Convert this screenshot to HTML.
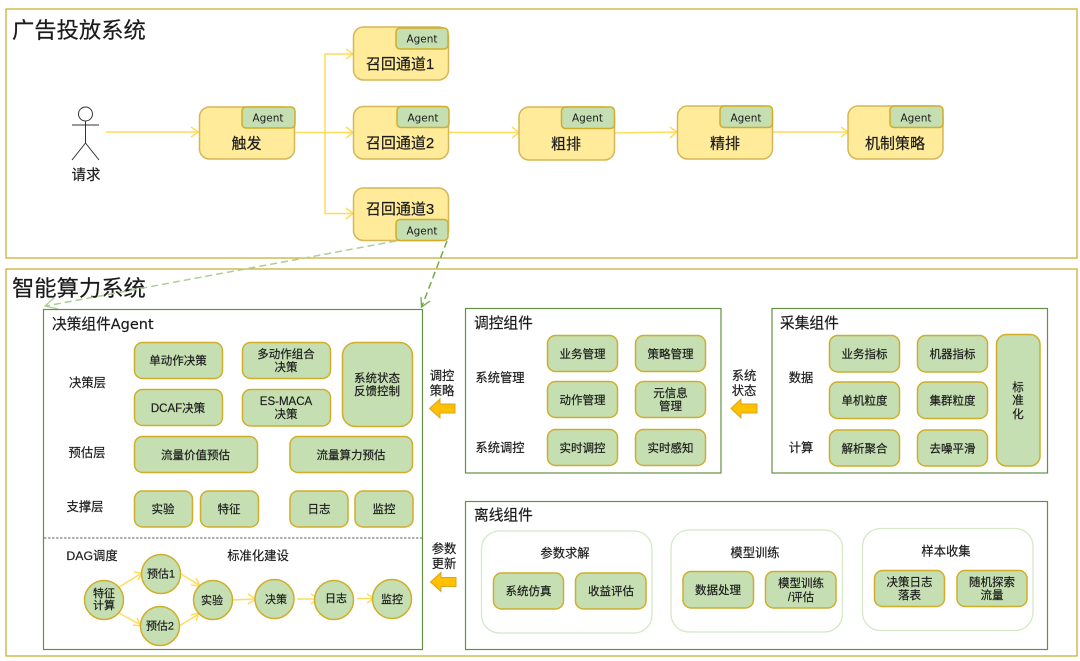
<!DOCTYPE html>
<html><head><meta charset="utf-8">
<style>
html,body{margin:0;padding:0;background:#fff}
svg{display:block}
text{font-family:"Liberation Sans","Noto Sans CJK SC",sans-serif;fill:#1a1a1a;stroke:#1a1a1a;stroke-width:.18;text-anchor:middle}
.l{text-anchor:start}
.t{font-size:22.3px}
.p{font-size:14.7px}
.s{font-size:11.5px}
.m{font-size:12.3px}
.a{font-family:"DejaVu Sans","Liberation Sans",sans-serif;font-size:11px;stroke-width:0}
.n{font-size:15px}
.c{font-size:11px}
.y{fill:#ffeb99;stroke:#d6b656;stroke-width:1.5}
.g{fill:#c5dfb3;stroke:#d0ae2a;stroke-width:1.5}
.b{fill:none;stroke:#658f45;stroke-width:1.2}
.o{fill:none;stroke:#d5e8c8;stroke-width:1.3}
.w{fill:none;stroke:#ffdc5c;stroke-width:1.5}
.h{fill:#ffc000;stroke:#d6a520;stroke-width:1}
</style></head>
<body>
<svg width="1080" height="661" viewBox="0 0 1080 661" xmlns="http://www.w3.org/2000/svg">
<rect x="0" y="0" width="1080" height="661" fill="#fff"/>
<rect x="6" y="9" width="1071" height="249" fill="none" stroke="#c8aa28" stroke-width="1.2"/>
<rect x="6" y="269" width="1071" height="387" fill="none" stroke="#c8aa28" stroke-width="1.2"/>
<text class="t l" x="12" y="38">广告投放系统</text>
<text class="t l" x="12" y="296">智能算力系统</text>

<!-- actor -->
<g fill="none" stroke="#333" stroke-width="1">
<circle cx="85.5" cy="114" r="7"/>
<path d="M85.5 121V143M72 125H99M85.5 143L72 160M85.5 143L99 160"/>
</g>
<text x="86" y="180" font-size="14.5">请求</text>

<!-- connectors top -->
<g class="w">
<path d="M106 132H198M191 127L198.500 132L191 137"/>
<path d="M295 132.500H352M346 127L353 132.500L346 138"/>
<path d="M325 132V54H352M346 49L353 54L346 59"/>
<path d="M325 132V213.500H352M346 208L353 213.500L346 219"/>
<path d="M448 132.500H518M512 127L519 132.500L512 138"/>
<path d="M615 133L677 132M670 127L677 132L670 138"/>
<path d="M773 132H847M841 127L848 132L841 137"/>
</g>

<!-- agent nodes -->
<rect class="y" x="199.500" y="107" width="95" height="52" rx="10"/>
<rect class="g" x="242" y="107" width="53" height="21" rx="4"/><text class="a" x="268" y="121.500" textLength="31" lengthAdjust="spacingAndGlyphs">Agent</text>
<text class="n" x="246.500" y="148.500">触发</text>

<rect class="y" x="353.500" y="27" width="95" height="53" rx="10"/>
<rect class="g" x="396" y="28" width="52" height="21" rx="4"/><text class="a" x="422" y="42.500" textLength="31" lengthAdjust="spacingAndGlyphs">Agent</text>
<text class="n" x="400" y="69">召回通道1</text>

<rect class="y" x="353.500" y="106.500" width="95" height="52.500" rx="10"/>
<rect class="g" x="397" y="106.500" width="52" height="21" rx="4"/><text class="a" x="423" y="121.500" textLength="31" lengthAdjust="spacingAndGlyphs">Agent</text>
<text class="n" x="400" y="148">召回通道2</text>

<rect class="y" x="353.500" y="188" width="95" height="52.500" rx="10"/>
<rect class="g" x="396" y="219.500" width="52" height="21" rx="4"/><text class="a" x="422" y="234.500" textLength="31" lengthAdjust="spacingAndGlyphs">Agent</text>
<text class="n" x="400" y="214">召回通道3</text>

<rect class="y" x="519" y="107" width="95.500" height="53" rx="10"/>
<rect class="g" x="561.500" y="107" width="53" height="21.500" rx="4"/><text class="a" x="587.500" y="121.500" textLength="31" lengthAdjust="spacingAndGlyphs">Agent</text>
<text class="n" x="566" y="149">粗排</text>

<rect class="y" x="677.500" y="106" width="95" height="53" rx="10"/>
<rect class="g" x="720" y="106" width="52.500" height="21.500" rx="4"/><text class="a" x="746" y="121.500" textLength="31" lengthAdjust="spacingAndGlyphs">Agent</text>
<text class="n" x="725" y="148.500">精排</text>

<rect class="y" x="848" y="106" width="95" height="53" rx="10"/>
<rect class="g" x="890" y="106" width="53" height="21.500" rx="4"/><text class="a" x="916" y="121.500" textLength="31" lengthAdjust="spacingAndGlyphs">Agent</text>
<text class="n" x="895" y="148.500">机制策略</text>

<!-- dashed arrows -->
<path d="M396 241L46 306" fill="none" stroke="#a9d18e" stroke-width="1.5" stroke-dasharray="7 4"/>
<path d="M55 297L45 306L58 309" fill="none" stroke="#a9d18e" stroke-width="1.3"/>
<path d="M447 241L422 306" fill="none" stroke="#70ad47" stroke-width="1.5" stroke-dasharray="7 4"/>
<path d="M421 297L421.500 307L430 301" fill="none" stroke="#70ad47" stroke-width="1.3"/>

<!-- decision panel -->
<rect class="b" x="43.500" y="309.500" width="379" height="340"/>
<text class="p l" x="52" y="329">决策组件<tspan font-family="DejaVu Sans, sans-serif" font-size="14.500">Agent</tspan></text>
<text class="m" x="87.500" y="387">决策层</text>
<text class="m" x="87" y="457">预估层</text>
<text class="m" x="85" y="511">支撑层</text>

<rect class="g" x="134.500" y="342.500" width="88" height="36" rx="8"/><text class="s" x="178" y="364.500">单动作决策</text>
<rect class="g" x="242.500" y="342.500" width="88" height="36" rx="8"/><text class="s" x="286" y="358">多动作组合</text><text class="s" x="286" y="371">决策</text>
<rect class="g" x="134.500" y="389.500" width="88" height="36" rx="8"/><text class="s" x="178" y="412">DCAF决策</text>
<rect class="g" x="242.500" y="389.500" width="88" height="36.500" rx="8"/><text class="s" x="286" y="405">ES-MACA</text><text class="s" x="286" y="418">决策</text>
<rect class="g" x="342.500" y="342.500" width="70" height="84" rx="13"/><text class="s" x="377" y="382">系统状态</text><text class="s" x="377" y="395">反馈控制</text>
<rect class="g" x="134.500" y="436.500" width="123" height="36" rx="8"/><text class="s" x="195.500" y="459">流量价值预估</text>
<rect class="g" x="290" y="436.500" width="122.500" height="36" rx="8"/><text class="s" x="351" y="459">流量算力预估</text>
<rect class="g" x="134.500" y="491" width="58" height="36" rx="8"/><text class="s" x="163" y="513">实验</text>
<rect class="g" x="200.500" y="491" width="58" height="36" rx="8"/><text class="s" x="229" y="513">特征</text>
<rect class="g" x="290" y="491" width="58" height="36" rx="8"/><text class="s" x="319" y="513">日志</text>
<rect class="g" x="355" y="491" width="58" height="36" rx="8"/><text class="s" x="384" y="513">监控</text>

<path d="M44 538H422" stroke="#666" stroke-width="1" stroke-dasharray="2.500 1.500" fill="none"/>
<text class="m" x="92" y="560">DAG调度</text>
<text class="m" x="258" y="560">标准化建设</text>

<!-- DAG -->
<g class="w">
<path d="M119 587L142 573M134 572L142 573L138 580"/>
<path d="M119 613L141 625M133 625L141 626L137 618"/>
<path d="M181 574L199 585M191 585L200 586L196 578"/>
<path d="M179 626L199 614M191 615L199 613L196 621"/>
<path d="M232 600L255 599M248 594L256 599L248 604"/>
<path d="M297 599L317 599M311 594L318 599L311 604"/>
<path d="M357 598.500L373 598.500M367 594L374 598.500L367 603"/>
</g>
<circle class="g" cx="104" cy="600" r="19.500"/><text class="c" x="104" y="597">特征</text><text class="c" x="104" y="609">计算</text>
<circle class="g" cx="161" cy="574" r="19.500"/><text class="c" x="161" y="577.500">预估1</text>
<circle class="g" cx="160" cy="626" r="19.500"/><text class="c" x="160" y="629.500">预估2</text>
<circle class="g" cx="213" cy="600" r="19.500"/><text class="c" x="212" y="604">实验</text>
<circle class="g" cx="274.500" cy="599" r="19.500"/><text class="c" x="276" y="603">决策</text>
<circle class="g" cx="334" cy="600" r="19.500"/><text class="c" x="336" y="602">日志</text>
<circle class="g" cx="392" cy="599" r="19.500"/><text class="c" x="392" y="603">监控</text>

<!-- block arrows -->
<text class="m" x="442" y="380">调控</text><text class="m" x="442" y="395">策略</text>
<path class="h" d="M429.500 408.500L440 399V404H455V413H440V418Z"/>
<text class="m" x="444" y="553">参数</text><text class="m" x="444" y="568">更新</text>
<path class="h" d="M430.500 582L441 572.500V577.500H456V586.500H441V591.500Z"/>
<text class="m" x="744" y="380">系统</text><text class="m" x="744" y="395">状态</text>
<path class="h" d="M731 408.500L741 399V404H757V413H741V418Z"/>

<!-- control panel -->
<rect class="b" x="465.500" y="308.500" width="255.500" height="164.500"/>
<text class="p l" x="474" y="328">调控组件</text>
<text class="m" x="500" y="382">系统管理</text>
<text class="m" x="500" y="452">系统调控</text>
<rect class="g" x="547.500" y="335.500" width="70" height="36" rx="8"/><text class="s" x="582.500" y="358">业务管理</text>
<rect class="g" x="635.500" y="335.500" width="70" height="36" rx="8"/><text class="s" x="670.500" y="358">策略管理</text>
<rect class="g" x="547.500" y="381.500" width="70" height="36" rx="8"/><text class="s" x="582.500" y="404">动作管理</text>
<rect class="g" x="635.500" y="381.500" width="70" height="36" rx="8"/><text class="s" x="670.500" y="397">元信息</text><text class="s" x="670.500" y="410">管理</text>
<rect class="g" x="547.500" y="429.500" width="70" height="36" rx="8"/><text class="s" x="582.500" y="452">实时调控</text>
<rect class="g" x="635.500" y="429.500" width="70" height="36" rx="8"/><text class="s" x="670.500" y="452">实时感知</text>

<!-- collect panel -->
<rect class="b" x="772" y="308.500" width="275.500" height="164.500"/>
<text class="p l" x="780" y="328">采集组件</text>
<text class="m" x="801" y="382">数据</text>
<text class="m" x="801" y="452">计算</text>
<rect class="g" x="829.500" y="335.500" width="70" height="36.500" rx="8"/><text class="s" x="864.500" y="358">业务指标</text>
<rect class="g" x="917.500" y="335.500" width="70" height="36.500" rx="8"/><text class="s" x="952.500" y="358">机器指标</text>
<rect class="g" x="829.500" y="382" width="70" height="36.500" rx="8"/><text class="s" x="864.500" y="404.500">单机粒度</text>
<rect class="g" x="917.500" y="382" width="70" height="36.500" rx="8"/><text class="s" x="952.500" y="404.500">集群粒度</text>
<rect class="g" x="829.500" y="430" width="70" height="36" rx="8"/><text class="s" x="864.500" y="452.500">解析聚合</text>
<rect class="g" x="917.500" y="430" width="70" height="36" rx="8"/><text class="s" x="952.500" y="452.500">去噪平滑</text>
<rect class="g" x="996.500" y="334.500" width="43.500" height="131.500" rx="10"/>
<text class="s" x="1018" y="391">标</text><text class="s" x="1018" y="404">准</text><text class="s" x="1018" y="418">化</text>

<!-- offline panel -->
<rect class="b" x="465.500" y="501.500" width="582" height="148"/>
<text class="p l" x="474" y="520">离线组件</text>
<rect class="o" x="481.500" y="531" width="170.500" height="102" rx="18"/>
<rect class="o" x="671" y="530" width="171.500" height="102" rx="18"/>
<rect class="o" x="862.500" y="528.500" width="170.500" height="102" rx="18"/>
<text class="m" x="565" y="557.500">参数求解</text>
<text class="m" x="755" y="557">模型训练</text>
<text class="m" x="946" y="555.500">样本收集</text>
<rect class="g" x="493.500" y="573" width="70" height="36" rx="8"/><text class="s" x="528.500" y="595">系统仿真</text>
<rect class="g" x="575.500" y="573" width="70.500" height="36" rx="8"/><text class="s" x="611" y="595">收益评估</text>
<rect class="g" x="683" y="571.500" width="70.500" height="36.500" rx="8"/><text class="s" x="718" y="594">数据处理</text>
<rect class="g" x="765.500" y="571.500" width="70.500" height="36.500" rx="8"/><text class="s" x="801" y="587">模型训练</text><text class="s" x="801" y="601">/评估</text>
<rect class="g" x="874.500" y="570.500" width="70" height="36" rx="8"/><text class="s" x="909.500" y="586">决策日志</text><text class="s" x="909.500" y="599">落表</text>
<rect class="g" x="957" y="570.500" width="70" height="36" rx="8"/><text class="s" x="992" y="586">随机探索</text><text class="s" x="992" y="599">流量</text>
</svg>
</body></html>
